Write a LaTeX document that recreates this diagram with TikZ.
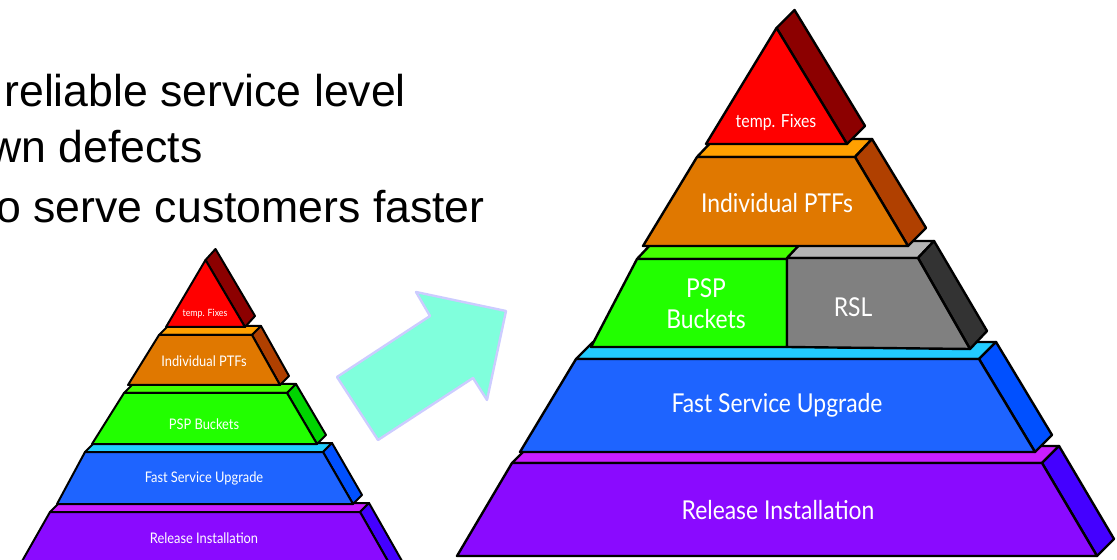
\documentclass[tikz,border=0pt]{standalone}
\usepackage{fontspec}
\setmainfont{Liberation Sans}
\newfontfamily\pyrfont[FakeStretch=0.88]{Lato}

% Farben: Front, t = Oberseite, s = Seite
\definecolor{rot}{HTML}{FF0000}
\definecolor{srot}{HTML}{8C0000}
\definecolor{orange}{HTML}{E07800}
\definecolor{torange}{HTML}{FFA000}
\definecolor{sorange}{HTML}{B04000}
\definecolor{gruen}{HTML}{22FF00}
\definecolor{tgruen}{HTML}{44FF00}
\definecolor{sgruen}{HTML}{00D400}
\definecolor{grau}{HTML}{808080}
\definecolor{tgrau}{HTML}{B4B4B4}
\definecolor{sgrau}{HTML}{333333}
\definecolor{blau}{HTML}{1E64FF}
\definecolor{tblau}{HTML}{22CCFF}
\definecolor{sblau}{HTML}{0050FF}
\definecolor{lila}{HTML}{8A0AFF}
\definecolor{tlila}{HTML}{C81EFF}
\definecolor{slila}{HTML}{4400FF}
\definecolor{pfeil}{HTML}{80FFDC}
\definecolor{pfeilrand}{HTML}{CCCCFF}

\begin{document}
\begin{tikzpicture}[x=0.5pt,y=-0.5pt,line join=round]
	\useasboundingbox (0,0) rectangle (1117,560);
	
	% Text oben links (links abgeschnitten)
	\node[anchor=base west,inner sep=0pt,font=\fontsize{22.3}{26}\selectfont] (z1) at (4,107) {reliable service level};
	\node[anchor=base west,inner sep=0pt,font=\fontsize{22.3}{26}\selectfont] (z2) at (-11,163) {wn defects};
	\node[anchor=base west,inner sep=0pt,font=\fontsize{22.3}{26}\selectfont] (z3) at (-4,223) {o serve customers faster};
	
	% Kleine Pyramide, Schichten von unten nach oben
	\foreach \xa/\xb/\xc/\xd/\ya/\yb/\farbe in {50/360/17/393/512/570/lila, 85/323/57/353/452/504/blau, 124/287/92/317/393/444/gruen, 159/252/128/280/335/385/orange} {
		\filldraw[fill=t\farbe,line width=1pt] (\xa,\ya) -- (\xb,\ya) -- ++(9,-9) -- (\xa+9,\ya-9) -- cycle;
		\filldraw[fill=s\farbe,line width=1pt] (\xb,\ya) -- ++(9,-9) -- (\xd+9,\yb-9) -- (\xd,\yb) -- cycle;
		\filldraw[fill=\farbe,line width=1pt] (\xa,\ya) -- (\xb,\ya) -- (\xd,\yb) -- (\xc,\yb) -- cycle;
	}
	\filldraw[fill=srot,line width=1pt] (205.5,260) -- (215.5,249) -- (255,316) -- (245,327) -- cycle;
	\filldraw[fill=rot,line width=1pt] (205.5,260) -- (245,327) -- (166,327) -- cycle;
	
	% Beschriftung kleine Pyramide
	\node[text=white,font=\pyrfont\fontsize{5}{6}\selectfont] (k1) at (205,314) {temp. Fixes};
	\foreach \t [count=\i from 2] in {Individual PTFs,PSP Buckets,Fast Service Upgrade,Release Installation} {
		\pgfmathsetmacro{\ty}{{361,424,478,538}[\i-2]}
		\node[text=white,font=\pyrfont\fontsize{7.3}{8}\selectfont] (k\i) at (204,\ty) {\t};
	}
	
	% Pfeil
	\filldraw[fill=pfeil,draw=pfeilrand,line width=1.2pt] (337,377) -- (430,316) -- (416,292) -- (506,311) -- (487,400) -- (473,378) -- (378,440) -- cycle;
	
	% Grosse Pyramide, untere Schichten
	\foreach \xa/\xb/\xc/\xd/\ya/\yb/\farbe in {512/1042/457/1097/463/556/lila, 576/979/520/1035/359/452/blau} {
		\filldraw[fill=t\farbe,line width=1.2pt] (\xa,\ya) -- (\xb,\ya) -- ++(17,-17) -- (\xa+17,\ya-17) -- cycle;
		\filldraw[fill=s\farbe,line width=1.2pt] (\xb,\ya) -- ++(17,-17) -- (\xd+17,\yb-17) -- (\xd,\yb) -- cycle;
		\filldraw[fill=\farbe,line width=1.2pt] (\xa,\ya) -- (\xb,\ya) -- (\xd,\yb) -- (\xc,\yb) -- cycle;
	}
	
	% PSP und RSL
	\filldraw[fill=tgruen,line width=1.2pt] (637,259) -- (787,259) -- (802,243) -- (652,243) -- cycle;
	\filldraw[fill=gruen,line width=1.2pt] (637,259) -- (787,259) -- (787,347) -- (591,347) -- cycle;
	\filldraw[fill=tgrau,line width=1.2pt] (787,258) -- (918,258) -- (934,241) -- (803,241) -- cycle;
	\filldraw[fill=sgrau,line width=1.2pt] (918,258) -- (934,241) -- (987,331) -- (970,349) -- cycle;
	\filldraw[fill=grau,line width=1.2pt] (787,258) -- (918,258) -- (970,349) -- (787,347) -- cycle;
	
	% Individual PTFs
	\filldraw[fill=torange,line width=1.2pt] (697,157) -- (855,157) -- (872,139) -- (714,139) -- cycle;
	\filldraw[fill=sorange,line width=1.2pt] (855,157) -- (872,139) -- (926,228) -- (908,246) -- cycle;
	\filldraw[fill=orange,line width=1.2pt] (697,157) -- (855,157) -- (908,246) -- (643,246) -- cycle;
	
	% Spitze
	\filldraw[fill=srot,line width=1.2pt] (776.5,28) -- (794.5,10) -- (865,126) -- (847,144) -- cycle;
	\filldraw[fill=rot,line width=1.2pt] (776.5,28) -- (847,144) -- (706,144) -- cycle;
	
	% Beschriftung grosse Pyramide
	\node[text=white,font=\pyrfont\fontsize{9}{10}\selectfont] (g1) at (776,122) {temp. Fixes};
	\node[text=white,font=\pyrfont\fontsize{13}{15}\selectfont] (g2) at (777,203) {Individual PTFs};
	\node[text=white,align=center,font=\pyrfont\fontsize{13}{15.5}\selectfont] (g3) at (706,304) {PSP\\Buckets};
	\node[text=white,font=\pyrfont\fontsize{13}{15}\selectfont] (g4) at (853,307) {RSL};
	\node[text=white,font=\pyrfont\fontsize{13}{15}\selectfont] (g5) at (777,405) {Fast Service Upgrade};
	\node[text=white,font=\pyrfont\fontsize{13}{15}\selectfont] (g6) at (778,510) {Release Installation};
\end{tikzpicture}
\end{document}
